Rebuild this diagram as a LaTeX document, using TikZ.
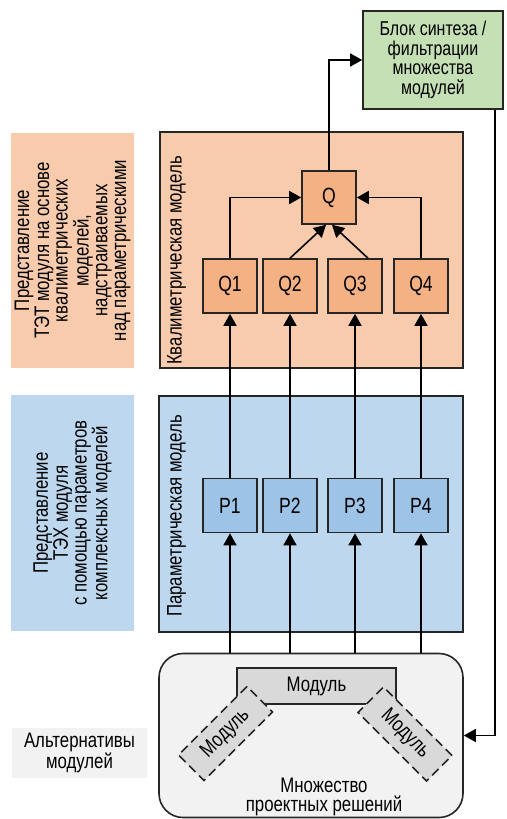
\documentclass[tikz,border=0pt]{standalone}
\usepackage{fontspec}
\setmainfont[FakeStretch=0.8]{Liberation Sans}
\usetikzlibrary{arrows.meta}

\definecolor{kvfill}{HTML}{F8CBAD}
\definecolor{qfill}{HTML}{F4B183}
\definecolor{parfill}{HTML}{BDD7EE}
\definecolor{pfill}{HTML}{9DC3E6}
\definecolor{synfill}{HTML}{C5E0B4}
\definecolor{setfill}{HTML}{F2F2F2}
\definecolor{modfill}{HTML}{D9D9D9}
\definecolor{linec}{HTML}{262626}

\begin{document}
\begin{tikzpicture}[x=1pt, y=-1pt,
        every node/.style={inner sep=0pt, font=\fontsize{21}{19}\selectfont},
        panel/.style={draw=linec, line width=1.6pt},
        unit/.style={panel, minimum width=54pt, minimum height=54pt, font=\fontsize{22}{22}\selectfont},
        modbox/.style={panel, fill=modfill, minimum width=97pt, minimum height=36pt},
        sidenote/.style={rotate=90, align=center, minimum width=235pt, minimum height=123pt, font=\fontsize{21}{18.7}\selectfont},
        link/.style={line width=1.6pt, -{Triangle[length=12pt, width=13pt]}}]
            \useasboundingbox (0,0) rectangle (506,819);
            % left notes
            \node [sidenote, fill=kvfill] (note1) at (72.5,250.5) {Представление\\ТЭТ модуля на основе\\квалиметрических\\моделей,\\надстраиваемых\\над параметрическими};
            \node [sidenote, fill=parfill, minimum width=236pt] (note2) at (72.5,513) {Представление\\ТЭХ модуля\\с помощью параметров\\комплексных моделей};
            \node [fill=setfill, minimum width=135pt, minimum height=50pt, align=center] (note3) at (79.5,753) {Альтернативы\\модулей};
            % panels
            \node [panel, fill=kvfill, minimum width=303pt, minimum height=236pt] (kval) at (311.5,250) {};
            \node [panel, fill=parfill, minimum width=304pt, minimum height=236pt] (param) at (311,514) {};
            \node [panel, fill=setfill, rounded corners=24pt, minimum width=304pt, minimum height=164pt] (set) at (311,735.5) {};
            \node [rotate=90, anchor=north west] (kvaltitle) at (167,365) {Квалиметрическая модель};
            \node [rotate=90, anchor=north west] (paramtitle) at (167,617) {Параметрическая модель};
            % blocks
            \node [panel, fill=synfill, minimum width=140pt, minimum height=98pt, align=center, font=\fontsize{20}{19.5}\selectfont] (synth) at (433,60) {Блок синтеза /\\фильтрации\\множества\\модулей};
            \node [unit, fill=qfill, minimum height=53pt] (q) at (329,197.5) {Q};
            \node [unit, fill=qfill] (q1) at (230,286) {Q1};
            \node [unit, fill=qfill] (q2) at (290,286) {Q2};
            \node [unit, fill=qfill] (q3) at (355,286) {Q3};
            \node [unit, fill=qfill] (q4) at (421,286) {Q4};
            \node [unit, fill=pfill] (p1) at (230,505.5) {P1};
            \node [unit, fill=pfill] (p2) at (290,505.5) {P2};
            \node [unit, fill=pfill] (p3) at (355,505.5) {P3};
            \node [unit, fill=pfill] (p4) at (421,505.5) {P4};
            % modules
            \node [modbox, minimum width=159pt] (mtop) at (316.5,686) {Модуль};
            \node [modbox, dash pattern=on 9pt off 5pt, rotate=45] (mleft) at (225.5,733.5) {Модуль};
            \node [modbox, dash pattern=on 9pt off 5pt, rotate=-45] (mright) at (405,734) {Модуль};
            \node [align=center] (settext) at (324,797) {Множество\\проектных решений};
            % connectors
            \draw [link] (set.north -| p1) -- (p1);
            \draw [link] (set.north -| p2) -- (p2);
            \draw [link] (set.north -| p3) -- (p3);
            \draw [link] (set.north -| p4) -- (p4);
            \draw [link] (p1) -- (q1);
            \draw [link] (p2) -- (q2);
            \draw [link] (p3) -- (q3);
            \draw [link] (p4) -- (q4);
            \draw [link] (q1) |- (q);
            \draw [link] (q4) |- (q);
            \draw [link] (q2.north) -- ([xshift=-3pt]q.south);
            \draw [link] ([xshift=13pt]q3.north) -- ([xshift=3pt]q.south);
            \draw [link] (q) |- (synth);
            \draw [link] ([xshift=62pt]synth.south) |- (set);
        \end{tikzpicture}
\end{document}
